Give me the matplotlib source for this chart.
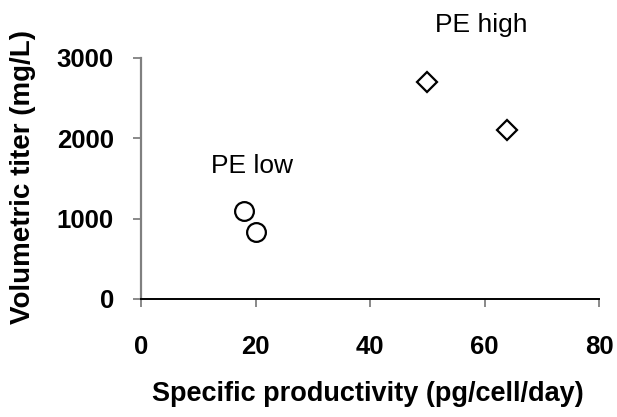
import matplotlib.pyplot as plt

plt.rcParams['font.family'] = ['Liberation Sans', 'DejaVu Sans']

# PE low group (circles)
low_x = [18, 20]
low_y = [1100, 840]
# PE high group (diamonds)
high_x = [50, 64]
high_y = [2700, 2100]

x_ticks = [0, 20, 40, 60, 80]
y_ticks = [0, 1000, 2000, 3000]

fig = plt.figure(figsize=(6.17, 4.17), dpi=100)
ax = fig.add_axes([0.2285, 0.283, 0.7425, 0.578])

ax.plot(low_x, low_y, 'o', ms=13.5, mfc='white', mec='black', mew=1.6, clip_on=False)
ax.plot(high_x, high_y, 'D', ms=10.5, mfc='white', mec='black', mew=1.6, clip_on=False)

ax.set_xlim(0, 80)
ax.set_ylim(0, 3000)
ax.set_xticks(x_ticks)
ax.set_yticks(y_ticks)

for s in ['top', 'right']:
    ax.spines[s].set_visible(False)
ax.spines['left'].set_color('#808080')
ax.spines['left'].set_linewidth(1.6)
ax.spines['bottom'].set_color('black')
ax.spines['bottom'].set_linewidth(1.4)

ax.tick_params(axis='y', direction='out', length=6, width=1.3, color='#808080', pad=13.5,
               labelsize=18.5)
ax.tick_params(axis='x', direction='out', length=6, width=1.3, color='#808080', pad=20,
               labelsize=18.5)
for lab in ax.get_xticklabels() + ax.get_yticklabels():
    lab.set_fontweight('bold')

# axis titles
fig.text(0.596, 0.055, 'Specific productivity (pg/cell/day)', fontsize=19.5,
         fontweight='bold', ha='center', va='center')
fig.text(0.038, 0.575, 'Volumetric titer (mg/L)', fontsize=20, fontweight='bold',
         ha='center', va='center', rotation=90)

ax.text(19.4, 1570, 'PE low', fontsize=19, ha='center', va='baseline')
ax.text(59.4, 3325, 'PE high', fontsize=19, ha='center', va='baseline', clip_on=False)

fig.savefig('out.png', dpi=100)
